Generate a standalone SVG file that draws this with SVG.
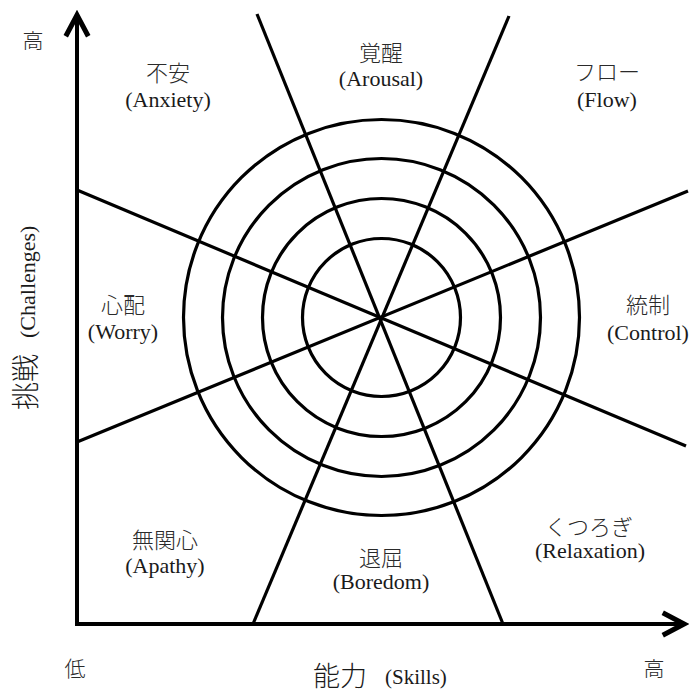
<svg xmlns="http://www.w3.org/2000/svg" width="691" height="693" viewBox="0 0 691 693">
  <style>
    .ring { fill: none; stroke: #000; stroke-width: 3.2; }
    .div { fill: none; stroke: #000; stroke-width: 3.2; stroke-linecap: butt; }
    .axis { fill: none; stroke: #000; stroke-width: 4; }
    .jp { font-family: 'Noto Sans CJK JP', sans-serif; font-size: 22px; fill: #2a2a2a; text-anchor: middle; font-weight: 300; }
    .en { font-family: 'Liberation Serif', 'Noto Sans CJK JP', serif; font-size: 22px; fill: #1a1a1a; text-anchor: middle; }
    .tick { font-family: 'Noto Sans CJK JP', sans-serif; font-size: 21px; fill: #2a2a2a; text-anchor: middle; font-weight: 300; }
  </style>
  <defs>
    <marker id="arrow" markerUnits="userSpaceOnUse" markerWidth="30" markerHeight="30" viewBox="-20 -12 24 24" refX="0" refY="0" orient="auto">
      <path d="M-17,-9 L0,0 L-17,9" fill="none" stroke="#000" stroke-width="4" stroke-linejoin="miter"/>
    </marker>
  </defs>
  <rect width="691" height="693" fill="#fff"/>

  <g id="rings">
    <circle class="ring" cx="381.5" cy="317.5" r="79"/>
    <circle class="ring" cx="381.5" cy="317.5" r="119"/>
    <circle class="ring" cx="381.5" cy="317.5" r="159"/>
    <circle class="ring" cx="381.5" cy="317.5" r="198"/>
  </g>

  <g id="connectors">
    <line class="div" x1="257" y1="14" x2="503" y2="624"/>
    <line class="div" x1="509" y1="16" x2="253" y2="624"/>
    <line class="div" x1="77" y1="190" x2="686" y2="446"/>
    <line class="div" x1="77" y1="442" x2="688" y2="191"/>
  </g>

  <g id="axes">
    <line class="axis" x1="77" y1="626" x2="77" y2="15" marker-end="url(#arrow)"/>
    <line class="axis" x1="75" y1="624" x2="684" y2="624" marker-end="url(#arrow)"/>
  </g>

  <g id="anxiety">
    <text class="jp" x="168" y="81">不安</text>
    <text class="en" x="168" y="107">(Anxiety)</text>
  </g>
  <g id="arousal">
    <text class="jp" x="381" y="61">覚醒</text>
    <text class="en" x="381" y="86">(Arousal)</text>
  </g>
  <g id="flow">
    <text class="jp" x="607" y="80">フロー</text>
    <text class="en" x="607" y="107">(Flow)</text>
  </g>
  <g id="worry">
    <text class="jp" x="123" y="313">心配</text>
    <text class="en" x="123" y="339">(Worry)</text>
  </g>
  <g id="control">
    <text class="jp" x="648" y="313">統制</text>
    <text class="en" x="648" y="340">(Control)</text>
  </g>
  <g id="apathy">
    <text class="jp" x="165" y="548">無関心</text>
    <text class="en" x="165" y="573">(Apathy)</text>
  </g>
  <g id="boredom">
    <text class="jp" x="381" y="566">退屈</text>
    <text class="en" x="381" y="589">(Boredom)</text>
  </g>
  <g id="relaxation">
    <text class="jp" x="589" y="535">くつろぎ</text>
    <text class="en" x="590" y="558">(Relaxation)</text>
  </g>

  <g id="labels">
    <text class="tick" x="33" y="48">高</text>
    <text class="tick" x="75" y="676">低</text>
    <text class="tick" x="654" y="676">高</text>
    <text x="313" y="686" font-family="'Noto Sans CJK JP', sans-serif" font-size="27" font-weight="300" fill="#1a1a1a">能力</text>
    <text x="385" y="684" font-family="'Liberation Serif', serif" font-size="21" fill="#1a1a1a">(Skills)</text>
    <text transform="translate(36,410) rotate(-90)" font-family="'Noto Sans CJK JP', sans-serif" font-size="28" font-weight="300" fill="#1a1a1a">挑戦</text>
    <text transform="translate(35,338) rotate(-90)" font-family="'Liberation Serif', serif" font-size="22" fill="#1a1a1a">(Challenges)</text>
  </g>
</svg>
